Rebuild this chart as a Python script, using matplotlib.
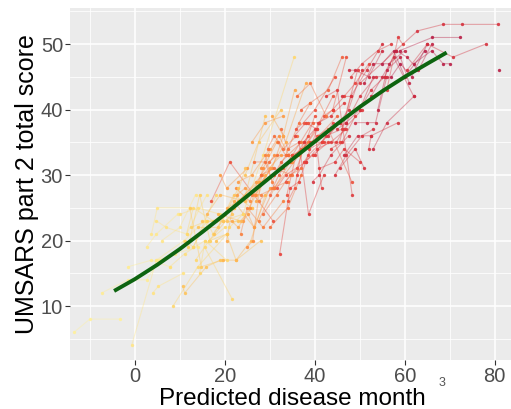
import matplotlib
matplotlib.use("Agg")
import matplotlib.pyplot as plt
from matplotlib.colors import LinearSegmentedColormap

plt.rcParams['font.family'] = ['Liberation Sans', 'DejaVu Sans']

# ---- data: per-subject trajectories (predicted disease month, UMSARS part 2 score, severity shade)
subj_month = [
    [-13.5, -10.0, -3.3], [-7.4, -1.5, 2.6, 5.5], [-0.7, 4.8, 11.0, 15.5], [-1.5, 3.7, 7.8],
    [2.6, 4.8, 9.5], [4.0, 5.2, 10.7], [3.7, 5.0, 12.2], [4.8, 7.0, 11.5, 16.0],
    [8.5, 14.0, 20.5], [7.8, 11.1, 15.6], [10.6, 11.1, 15.9, 19.0], [11.5, 13.0, 17.4, 22.0],
    [11.1, 13.0, 18.1], [11.9, 14.4, 16.7, 20.4], [12.2, 14.8, 19.3], [13.0, 15.9, 17.4, 21.1],
    [14.4, 15.6, 20.4], [5.0, 9.0, 14.0], [6.0, 10.0, 13.5], [15.5, 21.7],
    [10.0, 14.0, 19.0], [12.5, 16.0, 19.5, 24.0],
    [15.0, 18.0, 20.4, 23.0], [16.0, 19.0, 24.5, 27.5], [17.0, 21.1, 30.7], [18.1, 20.4, 22.5, 28.0],
    [19.0, 20.4, 25.0], [19.5, 22.5, 25.8, 29.0], [20.0, 21.8, 27.0, 32.5], [20.4, 22.0, 26.5],
    [21.0, 24.0, 28.5, 35.4], [21.5, 23.0, 25.5, 29.0], [22.0, 24.6, 29.0], [22.5, 25.5, 28.0, 31.0],
    [23.0, 26.0, 30.0], [23.5, 25.0, 28.5, 33.0], [24.0, 25.2, 26.5, 30.0], [24.5, 27.5, 32.5],
    [25.0, 26.2, 28.2], [18.5, 23.5, 26.0], [16.5, 21.5, 24.5], [14.0, 18.5, 22.0, 26.0],
    [25.5, 27.0, 30.5, 33.0], [26.0, 28.0, 31.0, 36.5], [26.5, 29.0, 31.0], [27.0, 28.5, 33.5, 38.0],
    [27.5, 30.5, 34.0], [28.0, 29.5, 32.0, 35.0], [28.5, 31.5, 34.5, 37.0], [29.0, 30.5, 33.5],
    [29.5, 31.0, 33.0, 36.0], [30.0, 32.0, 35.0, 39.5], [30.5, 33.0, 35.5], [31.0, 32.5, 34.0, 36.0],
    [31.5, 33.5, 38.0], [32.2, 34.5, 36.5, 41.0], [32.5, 34.0, 36.5], [33.0, 35.0, 37.5, 40.5],
    [33.5, 36.0, 40.0], [34.0, 35.5, 37.5, 39.5], [34.5, 37.0, 41.0, 45.0], [26.0, 29.0, 33.0],
    [27.5, 31.0, 34.5, 38.5], [28.0, 31.0, 35.0], [30.0, 34.0, 37.0],
    [35.0, 37.5, 41.0, 44.0], [35.5, 38.0, 40.5], [36.0, 38.5, 41.5, 45.5], [36.5, 38.6, 42.0],
    [37.0, 39.0, 43.0, 46.0], [37.5, 40.0, 41.5], [38.0, 40.5, 43.5, 47.0], [38.5, 41.0, 44.0],
    [39.0, 42.0, 45.5, 48.0], [39.5, 41.0, 43.5, 47.5], [40.0, 42.5, 46.0, 49.5], [40.5, 43.0, 48.2],
    [41.0, 44.5, 46.5, 50.0], [42.0, 44.0, 47.0], [42.5, 45.0, 48.3], [43.0, 45.5, 47.5, 50.5],
    [43.5, 46.0, 49.0], [44.0, 46.5, 49.0, 52.0], [36.0, 39.0, 42.5], [37.5, 39.5, 43.0],
    [44.5, 47.0, 50.5, 53.0],
    [45.0, 47.0, 50.0, 53.5], [46.0, 48.0, 51.5, 55.0], [46.5, 49.5, 52.5], [47.0, 50.0, 53.0, 55.5],
    [48.0, 50.5, 54.0, 57.0], [49.0, 51.5, 53.5, 56.0], [50.0, 52.5, 55.5, 58.0], [51.0, 53.0, 56.5, 60.0],
    [52.0, 52.5, 58.5], [52.5, 55.0, 57.5, 62.0], [54.0, 56.0, 59.0, 61.0], [55.0, 57.5, 60.0, 64.5],
    [56.0, 58.5, 59.5], [57.0, 59.0, 61.5, 65.0], [58.0, 60.5, 63.0, 66.0],
    [50.0, 62.8, 68.5, 72.6, 80.6], [58.9, 66.1, 72.2], [60.5, 65.0, 70.7, 78.0],
    [62.0, 66.0, 68.5, 70.0], [81.0], [53.0, 56.0, 62.0], [45.5, 49.0, 51.0],
    [20.5, 23.0, 27.5], [22.8, 24.5, 27.0, 30.0], [26.8, 28.5, 31.5], [29.8, 31.5, 34.0, 37.0],
    [31.8, 33.5, 36.5, 39.0], [33.8, 35.8, 38.5], [35.8, 37.5, 40.0, 44.5], [38.8, 41.5, 44.0],
    [40.8, 43.5, 46.5], [44.8, 46.5, 50.5], [47.5, 49.0, 52.0, 55.0], [17.5, 19.5, 23.0],
    [13.5, 16.5, 20.0],
]
subj_score = [
    [6, 8, 8], [12, 14, 14, 17], [4, 17, 20, 23], [16, 17, 16],
    [19, 21, 24], [12, 13, 15], [21, 25, 25], [23, 22, 21, 27],
    [10, 16, 21], [16, 18, 20], [13, 12, 16, 17], [21, 25, 23, 25],
    [20, 19, 27], [19, 27, 20, 21], [25, 16, 17], [19, 23, 21, 25],
    [15, 20, 17], [17, 18, 19], [20, 22, 27], [19, 11],
    [24, 25, 24], [22, 23, 23, 24],
    [23, 23, 23, 23], [24, 27, 26, 29], [26, 32, 23], [20, 21, 17, 20],
    [30, 28, 31], [17, 17, 20, 27], [24, 25, 29, 33], [20, 26, 22],
    [22, 24, 33, 48], [23, 22, 25, 30], [25, 27, 39], [28, 26, 30, 33],
    [29, 30, 34], [21, 25, 22, 26], [23, 24, 22, 28], [30, 35, 40],
    [19, 20, 30], [24, 23, 25], [20, 24, 31], [22, 22, 27, 25],
    [25, 28, 31, 36], [27, 27, 28, 33], [32, 32, 28], [26, 29, 35, 44],
    [26, 28, 29], [31, 33, 36, 32], [24, 27, 30, 31], [33, 29, 33],
    [34, 36, 34, 36], [27, 30, 33, 38], [39, 36, 43], [30, 32, 33, 33],
    [28, 30, 32], [18, 28, 29, 38], [37, 34, 35], [31, 33, 34, 37],
    [29, 31, 39], [26, 28, 35, 35], [32, 34, 36, 39], [35, 38, 39],
    [23, 28, 32, 35], [30, 31, 30], [22, 25, 30],
    [33, 34, 38, 42], [36, 38, 37], [30, 33, 35, 38], [35, 24, 30],
    [40, 41, 43, 48], [35, 37, 28], [32, 34, 35, 37], [38, 38, 40],
    [35, 35, 35, 42], [29, 30, 33, 36], [33, 36, 37, 46], [36, 37, 29],
    [31, 32, 34, 32], [39, 40, 48], [42, 43, 27], [36, 38, 40, 46],
    [34, 35, 39], [40, 42, 44, 47], [42, 44, 39], [32, 33, 35],
    [30, 33, 36, 37],
    [37, 38, 42, 45], [42, 42, 46, 50], [33, 36, 36], [38, 40, 45, 45],
    [45, 47, 49, 50], [38, 38, 38, 45], [40, 43, 45, 49], [44, 47, 47, 49],
    [34, 36, 38], [42, 45, 48, 42], [40, 46, 48, 44], [47, 49, 45, 49],
    [43, 51, 50], [45, 47, 45, 50], [49, 48, 46, 50],
    [44, 52, 53, 53, 53], [49, 51, 51], [46, 50, 48, 50],
    [47, 49, 47, 47], [46], [34, 38, 42], [31, 34, 31],
    [25, 26, 29], [27, 28, 27, 31], [27, 31, 35], [32, 33, 33, 35],
    [35, 33, 38, 41], [27, 33, 36], [37, 38, 40, 45], [34, 35, 38],
    [38, 39, 41], [35, 37, 40], [46, 46, 45, 49], [21, 23, 28],
    [17, 20, 22],
]
subj_shade = [
    0.02, 0.05, 0.10, 0.06, 0.08, 0.12, 0.10, 0.12,
    0.20, 0.15, 0.30, 0.20, 0.22, 0.25, 0.28, 0.20,
    0.20, 0.08, 0.10, 0.20, 0.15, 0.25,
    0.30, 0.35, 0.70, 0.30, 0.45, 0.35, 0.45, 0.40,
    0.20, 0.40, 0.30, 0.50, 0.45, 0.55, 0.45, 0.30,
    0.50, 0.35, 0.30, 0.30,
    0.50, 0.55, 0.60, 0.40, 0.55, 0.50, 0.60, 0.55,
    0.60, 0.65, 0.40, 0.65, 0.70, 0.75, 0.60, 0.65,
    0.70, 0.70, 0.65, 0.45, 0.55, 0.60, 0.60,
    0.70, 0.75, 0.75, 0.80, 0.65, 0.80, 0.80, 0.70,
    0.75, 0.85, 0.80, 0.70, 0.80, 0.70, 0.80, 0.85,
    0.80, 0.75, 0.60, 0.75, 0.85,
    0.85, 0.85, 0.90, 0.90, 0.80, 0.90, 0.85, 0.95,
    0.85, 0.90, 0.95, 1.00, 0.80, 1.00, 0.95,
    0.85, 1.00, 0.85, 1.00, 1.00, 0.90, 0.85,
    0.40, 0.45, 0.50, 0.60, 0.60, 0.70, 0.70, 0.75,
    0.80, 0.80, 0.90, 0.30, 0.20,
]

# population fit curve
fit_month = [-4.6, 0, 5, 10, 15, 20, 25, 30, 35, 40, 45, 50, 55, 60, 65, 69.3]
fit_score = [12.3, 14.1, 16.3, 18.7, 21.3, 24.0, 26.8, 29.6, 32.4, 35.1, 37.8, 40.4, 42.8, 45.0, 47.0, 48.7]

x_ticks = [0, 20, 40, 60, 80]
y_ticks = [10, 20, 30, 40, 50]

# ---- figure
W, H = 511, 409
fig = plt.figure(figsize=(W / 100, H / 100), dpi=100)
fig.patch.set_facecolor('white')
ax = fig.add_axes([70 / W, 1 - 360 / H, 441 / W, 352 / H])
ax.set_facecolor('#EBEBEB')

cmap = LinearSegmentedColormap.from_list('ylorrd', ['#FFF3A0', '#FED060', '#FD8D3C', '#E8403A', '#B81E45'])

for xs, ys, c in zip(subj_month, subj_score, subj_shade):
    col = cmap(c)
    ax.plot(xs, ys, '-', color=col, lw=0.8, alpha=0.4, zorder=2)
    ax.plot(xs, ys, 'o', color=col, ms=2.4, mew=0, alpha=0.9, zorder=3)

ax.plot(fit_month, fit_score, '-', color='#0E6410', lw=2.8, zorder=4, solid_capstyle='butt')

ax.set_xlim(-14.4, 83.6)
ax.set_ylim(1.76, 55.5)
ax.set_xticks(x_ticks)
ax.set_yticks(y_ticks)
ax.set_xticks([-10, 10, 30, 50, 70], minor=True)
ax.set_yticks([5, 15, 25, 35, 45, 55], minor=True)
ax.grid(which='major', color='white', lw=1.1, zorder=0)
ax.grid(which='minor', color='white', lw=0.55, zorder=0)
ax.set_axisbelow(True)
for s in ax.spines.values():
    s.set_visible(False)
ax.tick_params(which='major', length=3.5, width=0.8, color='#333333', labelcolor='#4D4D4D',
               labelsize=14.5, pad=1.5)
ax.tick_params(which='minor', length=0)

fig.text(292 / W, 1 - 405 / H, 'Predicted disease month', ha='center', va='baseline',
         fontsize=17.5, color='black')
fig.text(27 / W, 1 - 184 / H, 'UMSARS part 2 total score', ha='center', va='center',
         rotation=90, fontsize=18, color='black')
fig.text(442 / W, 1 - 383 / H, '3', ha='center', va='center', fontsize=9, color='#555555')

fig.savefig('out.png', dpi=100)
